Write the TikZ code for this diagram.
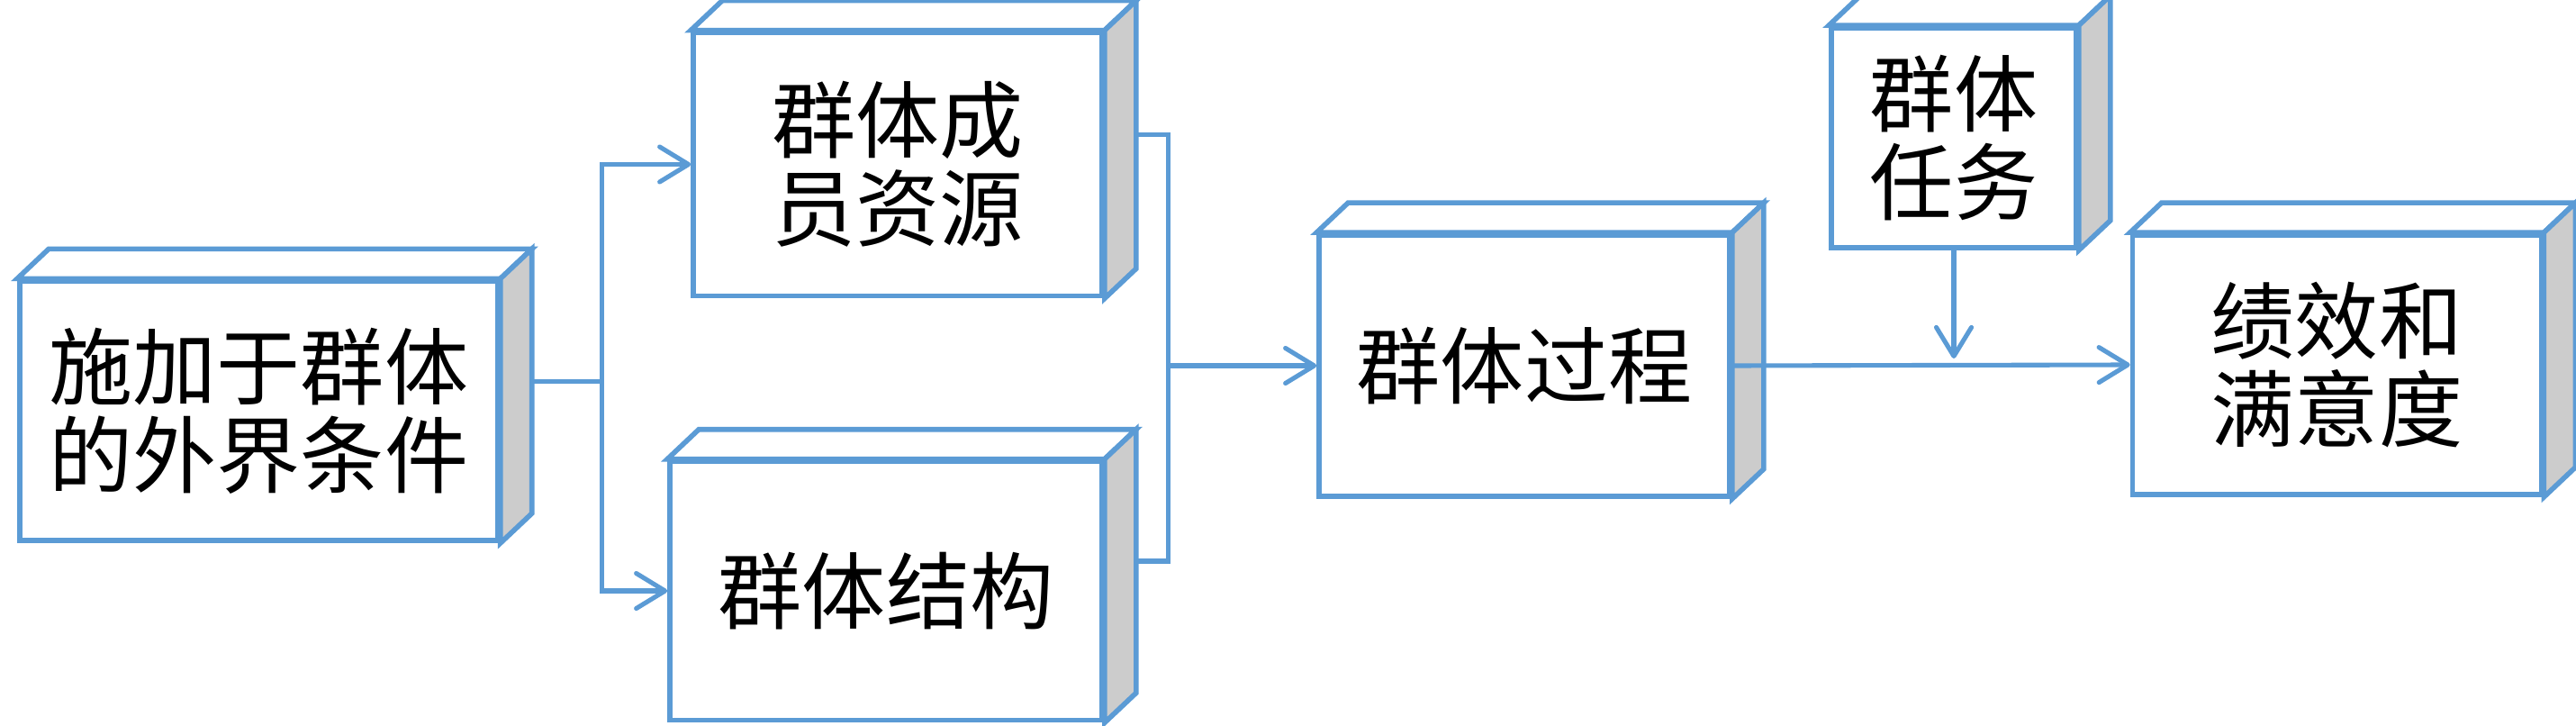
\documentclass[tikz,border=0pt]{standalone}
\usepackage{fontspec}
\setmainfont{Noto Sans CJK SC}
\usetikzlibrary{arrows.meta}
\definecolor{boxblue}{HTML}{5B9BD5}
\definecolor{sidegray}{HTML}{CCCCCC}
\newcommand{\cubedx}{0.35}
\newcommand{\cubedy}{0.33}
%% top and side faces of a box node
\newcommand{\cubefaces}[1]{%
  \filldraw[cubeface, fill=white] (#1.north west) -- ++(\cubedx,\cubedy)
    -- ([shift={(\cubedx,\cubedy)}]#1.north east) -- (#1.north east) -- cycle;
  \filldraw[cubeface, fill=sidegray] (#1.north east)
    -- ([shift={(\cubedx,\cubedy)}]#1.north east)
    -- ([shift={(\cubedx,\cubedy)}]#1.south east) -- (#1.south east) -- cycle;
  \coordinate (#1out) at ([shift={(\cubedx,\cubedy)}]#1.east);
}
\tikzset{
  cube/.style={draw=boxblue, line width=1.6pt, fill=white, align=center,
    inner sep=0pt, font=\fontsize{26.5}{28}\selectfont},
  cubeface/.style={draw=boxblue, line width=1.6pt},
  link/.style={draw=boxblue, line width=1.45pt},
  arr/.style={link, -{Straight Barb[length=3.2mm,width=3.9mm,round]}},
}
\begin{document}
\begin{tikzpicture}
    \useasboundingbox (0,0) rectangle (28.61,8.05);
    %% boxes
    \node[cube, minimum width=5.31cm, minimum height=2.88cm] (ext) at (2.874,3.488) {施加于群体\\的外界条件};
    \node[cube, minimum width=4.54cm, minimum height=2.92cm] (res) at (9.97,6.225) {群体成\\员资源};
    \node[cube, minimum width=4.80cm, minimum height=2.87cm] (str) at (9.84,1.49) {群体结构};
    \node[cube, minimum width=4.56cm, minimum height=2.90cm] (proc) at (16.93,3.99) {群体过程};
    \node[cube, minimum width=2.72cm, minimum height=2.44cm] (task) at (21.70,6.52) {群体\\任务};
    \node[cube, minimum width=4.54cm, minimum height=2.88cm] (perf) at (25.955,4.0) {绩效和\\满意度};
    \cubefaces{ext}
    \cubefaces{res}
    \cubefaces{str}
    \cubefaces{proc}
    \cubefaces{task}
    \cubefaces{perf}
    %% outside conditions split to members and structure
    \draw[link] (extout) -- ++(0.78,0) coordinate (fork);
    \draw[arr] (fork) |- (res.west);
    \draw[arr] (fork) |- (str.west);
    %% members and structure merge into process
    \draw[link] (resout) -- ++(0.36,0) coordinate (merge) -- (merge |- strout) -- (strout);
    \draw[arr] (merge |- proc.west) -- (proc.west);
    %% process to outcome, task from above
    \draw[arr] (proc.east) -- (perf.west);
    \draw[arr] (task.south) -- ([yshift=0.08cm]task.south |- proc.east);
\end{tikzpicture}
\end{document}
